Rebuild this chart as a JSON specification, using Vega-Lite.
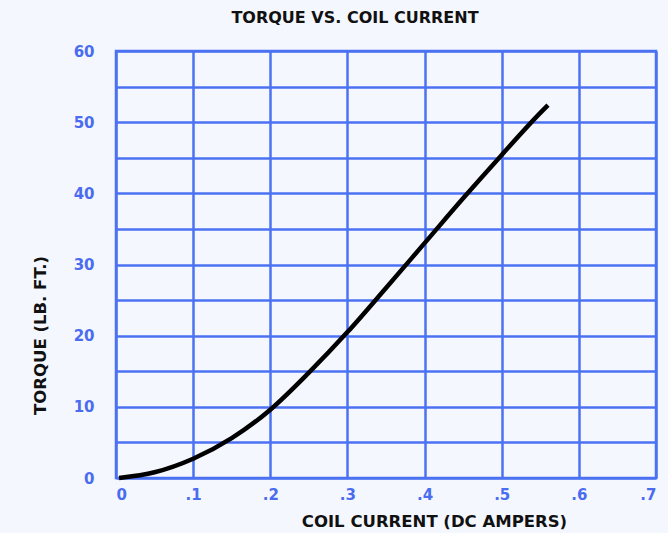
{
  "$schema": "https://vega.github.io/schema/vega-lite/v6.json",
  "autosize": {"type": "none"},
  "width": 540,
  "height": 427,
  "padding": {"left": 116, "top": 51, "right": 12, "bottom": 55},
  "background": "#f5f7fe",
  "title": {
    "text": "TORQUE VS. COIL CURRENT",
    "font": "DejaVu Sans",
    "fontSize": 16,
    "fontWeight": "bold",
    "color": "#111111",
    "anchor": "middle",
    "dx": -31,
    "offset": 18
  },
  "config": {
    "view": {"stroke": "#4b72f2", "strokeWidth": 2.5},
    "axis": {
      "gridColor": "#4b72f2",
      "gridWidth": 2.5,
      "gridOpacity": 1,
      "domain": false,
      "ticks": false,
      "labelFont": "DejaVu Sans",
      "labelFontWeight": "bold",
      "labelFontSize": 15,
      "labelColor": "#4a6cf0",
      "titleFont": "DejaVu Sans",
      "titleFontWeight": "bold",
      "titleFontSize": 16.5,
      "titleColor": "#111111"
    }
  },
  "data": {
    "values": [
      {"current": 0.004, "torque": 0.0},
      {"current": 0.05, "torque": 0.8},
      {"current": 0.1, "torque": 2.7},
      {"current": 0.15, "torque": 5.6},
      {"current": 0.2, "torque": 9.6},
      {"current": 0.25, "torque": 14.8},
      {"current": 0.3, "torque": 20.5},
      {"current": 0.35, "torque": 26.7},
      {"current": 0.4, "torque": 33.0},
      {"current": 0.45, "torque": 39.3},
      {"current": 0.5, "torque": 45.4},
      {"current": 0.55, "torque": 51.3},
      {"current": 0.56, "torque": 52.4}
    ]
  },
  "mark": {"type": "line", "color": "#000000", "strokeWidth": 4.5, "interpolate": "monotone", "strokeCap": "butt"},
  "encoding": {
    "x": {
      "field": "current",
      "type": "quantitative",
      "scale": {"domain": [0, 0.7], "nice": false, "zero": true},
      "axis": {
        "title": "COIL CURRENT (DC AMPERS)",
        "values": [0, 0.1, 0.2, 0.3, 0.4, 0.5, 0.6, 0.7],
        "labelExpr": "datum.value == 0 ? '0' : '.' + round(datum.value * 10)",
        "labelPadding": 9,
        "titleX": 318,
        "titleY": 48,
        "titleBaseline": "alphabetic",
        "titleAlign": "center"
      }
    },
    "y": {
      "field": "torque",
      "type": "quantitative",
      "scale": {"domain": [0, 60], "nice": false},
      "axis": {
        "title": "TORQUE (LB. FT.)",
        "values": [0, 5, 10, 15, 20, 25, 30, 35, 40, 45, 50, 55, 60],
        "labelExpr": "datum.value % 10 == 0 ? datum.label : ''",
        "labelPadding": 22,
        "titleX": -71,
        "titleY": 284,
        "titleBaseline": "alphabetic",
        "titleAlign": "center",
        "titleAngle": -90
      }
    }
  }
}
